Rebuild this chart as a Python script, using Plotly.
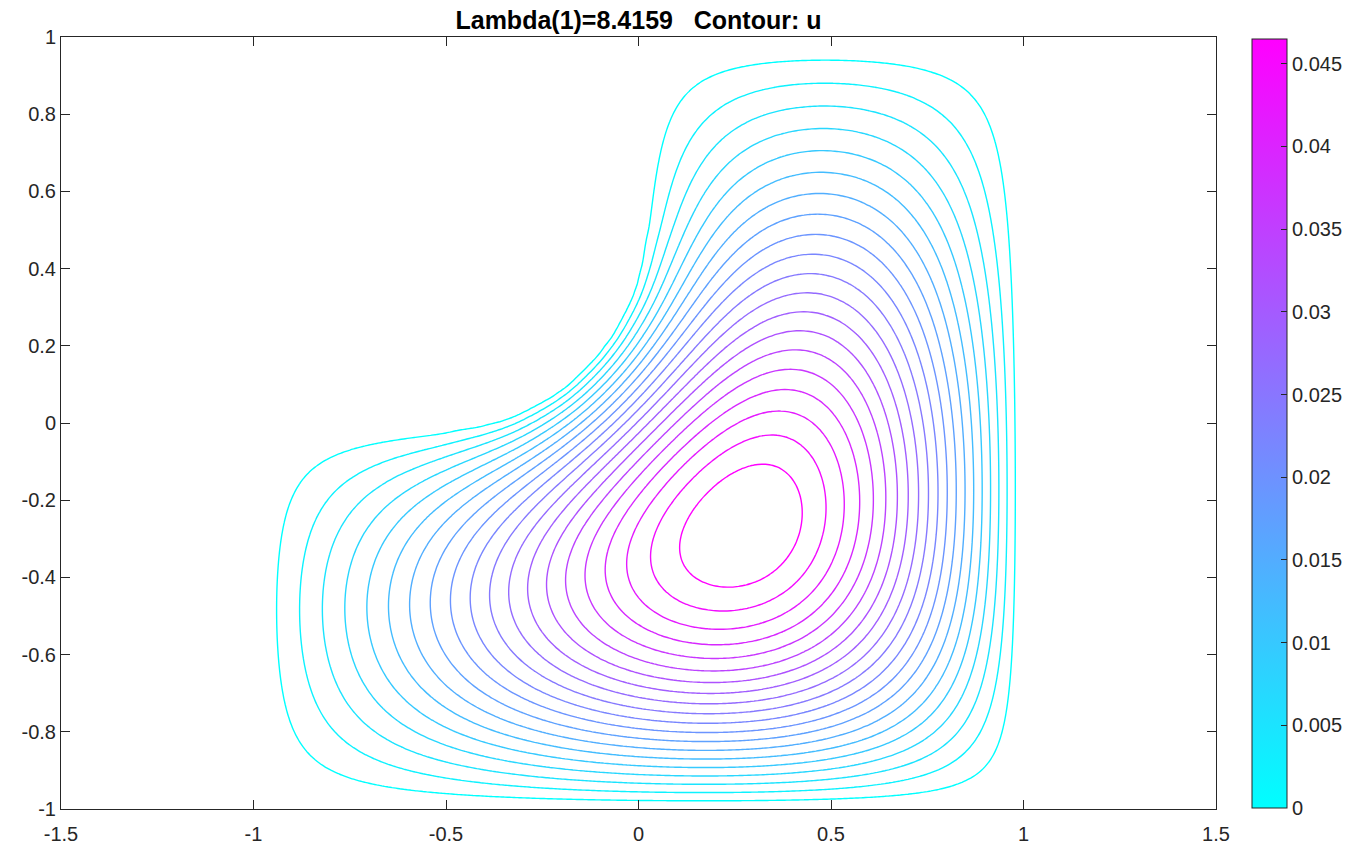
import numpy as np
import plotly.graph_objects as go

# ---------------- data ----------------
title_text = "Lambda(1)=8.4159\u00a0\u00a0\u00a0Contour: u"
x_range = [-1.5, 1.5]
y_range = [-1.0, 1.0]
x_ticks = [-1.5, -1.0, -0.5, 0.0, 0.5, 1.0, 1.5]
x_tick_labels = ["-1.5", "-1", "-0.5", "0", "0.5", "1", "1.5"]
y_ticks = [-1.0, -0.8, -0.6, -0.4, -0.2, 0.0, 0.2, 0.4, 0.6, 0.8, 1.0]
y_tick_labels = ["-1", "-0.8", "-0.6", "-0.4", "-0.2", "0", "0.2", "0.4", "0.6", "0.8", "1"]
cbar_ticks = [0.0, 0.005, 0.01, 0.015, 0.02, 0.025, 0.03, 0.035, 0.04, 0.045]
cbar_tick_labels = ["0", "0.005", "0.01", "0.015", "0.02", "0.025", "0.03", "0.035", "0.04", "0.045"]

# membrane: square [-1,1]^2 with the upper-left quadrant removed,
# re-entrant corner rounded with a circular fillet
square_bounds = [-1.0, 1.0, -1.0, 1.0]
reentrant_corner = [0.0, 0.0]
fillet_radius = 0.5
u_max = 0.0465          # top of the colour bar (max of u)
n_levels = 20           # number of contour lines
cool_colorscale = [[0.0, "rgb(0,255,255)"], [1.0, "rgb(255,0,255)"]]

# ---------------- first Dirichlet eigenfunction of the membrane ----------------
n = 201
xs = np.linspace(square_bounds[0], square_bounds[1], n)
ys = np.linspace(square_bounds[2], square_bounds[3], n)
X, Y = np.meshgrid(xs, ys)
h = xs[1] - xs[0]
cx, cy = reentrant_corner
r = fillet_radius
eps = 1e-9
fillet = (X > cx - r) & (Y < cy + r) & ((X - (cx - r)) ** 2 + (Y - (cy + r)) ** 2 > r ** 2)
removed = (X <= cx + eps) & (Y >= cy - eps) & ~fillet
inside = (X > square_bounds[0] + eps) & (X < square_bounds[1] - eps) & \
         (Y > square_bounds[2] + eps) & (Y < square_bounds[3] - eps) & ~removed
M = inside.astype(float)


def lap(u):
    out = 4.0 * u
    out[1:, :] -= u[:-1, :]
    out[:-1, :] -= u[1:, :]
    out[:, 1:] -= u[:, :-1]
    out[:, :-1] -= u[:, 1:]
    return out * M / h ** 2


def cg(b, x0, tol=1e-9, maxit=3000):
    x = x0.copy()
    rr = b - lap(x)
    p = rr.copy()
    rs = np.sum(rr * rr)
    bn = np.sqrt(np.sum(b * b))
    for _ in range(maxit):
        Ap = lap(p)
        a = rs / np.sum(p * Ap)
        x += a * p
        rr -= a * Ap
        rs_new = np.sum(rr * rr)
        if np.sqrt(rs_new) < tol * bn:
            break
        p = rr + (rs_new / rs) * p
        rs = rs_new
    return x


u = M.copy()
u /= np.linalg.norm(u)
lam = np.sum(u * lap(u))
for _ in range(25):
    v = cg(u, u / lam)
    u = v / np.linalg.norm(v)
    lam = np.sum(u * lap(u))

U = u * M
U = U * (u_max / U.max())

level_step = u_max / (n_levels + 1)

fig = go.Figure()
fig.add_trace(go.Contour(
    x=xs, y=ys, z=U,
    contours=dict(start=level_step, end=n_levels * level_step + level_step * 0.01,
                  size=level_step, coloring="lines"),
    colorscale=cool_colorscale,
    line=dict(width=1.4, smoothing=1),
    showscale=False, hoverinfo="skip",
))
fig.add_trace(go.Scatter(
    x=[None, None], y=[None, None], mode="markers", showlegend=False, hoverinfo="skip",
    marker=dict(color=[0.0, u_max], colorscale=cool_colorscale, cmin=0.0, cmax=u_max,
                showscale=True,
                colorbar=dict(
                    thickness=35, thicknessmode="pixels", len=(808 - 39.5) / (809 - 37), lenmode="fraction",
                    x=(1252 - 61) / (1216 - 61), xanchor="left", y=(854 - 45 - 808) / (809 - 37) + 0.0,
                    yanchor="bottom", xpad=0, ypad=0,
                    outlinewidth=1, outlinecolor="#262626",
                    ticks="inside", ticklen=6, tickcolor="#262626", tickwidth=1,
                    tickvals=cbar_ticks, ticktext=cbar_tick_labels,
                    tickfont=dict(family="Liberation Sans, Arial", size=20, color="#262626"),
                )),
))

axis_common = dict(
    showgrid=False, zeroline=False, showline=True, linecolor="#262626", linewidth=1,
    mirror="allticks", ticks="inside", ticklen=9, tickcolor="#262626", tickwidth=1,
    automargin=False,
    tickfont=dict(family="Liberation Sans, Arial", size=20, color="#262626"),
)
fig.update_xaxes(range=x_range, tickvals=x_ticks, ticktext=x_tick_labels,
                 ticklabelstandoff=7, **axis_common)
fig.update_yaxes(range=y_range, tickvals=y_ticks, ticktext=y_tick_labels, **axis_common)

fig.update_layout(
    width=1369, height=854,
    margin=dict(l=61, r=153, t=37, b=45, autoexpand=False),
    plot_bgcolor="white", paper_bgcolor="white",
    title=dict(text="<b>" + title_text + "</b>", x=(61 + 1216) / 2 / 1369, xanchor="center",
               y=1 - 20 / 854, yanchor="middle", yref="container",
               font=dict(family="Liberation Sans, Arial", size=25, color="black")),
    showlegend=False,
)

fig.write_html("out.html", config={"displayModeBar": False},
               post_script="document.body.style.margin='0';document.body.style.overflow='hidden';")
